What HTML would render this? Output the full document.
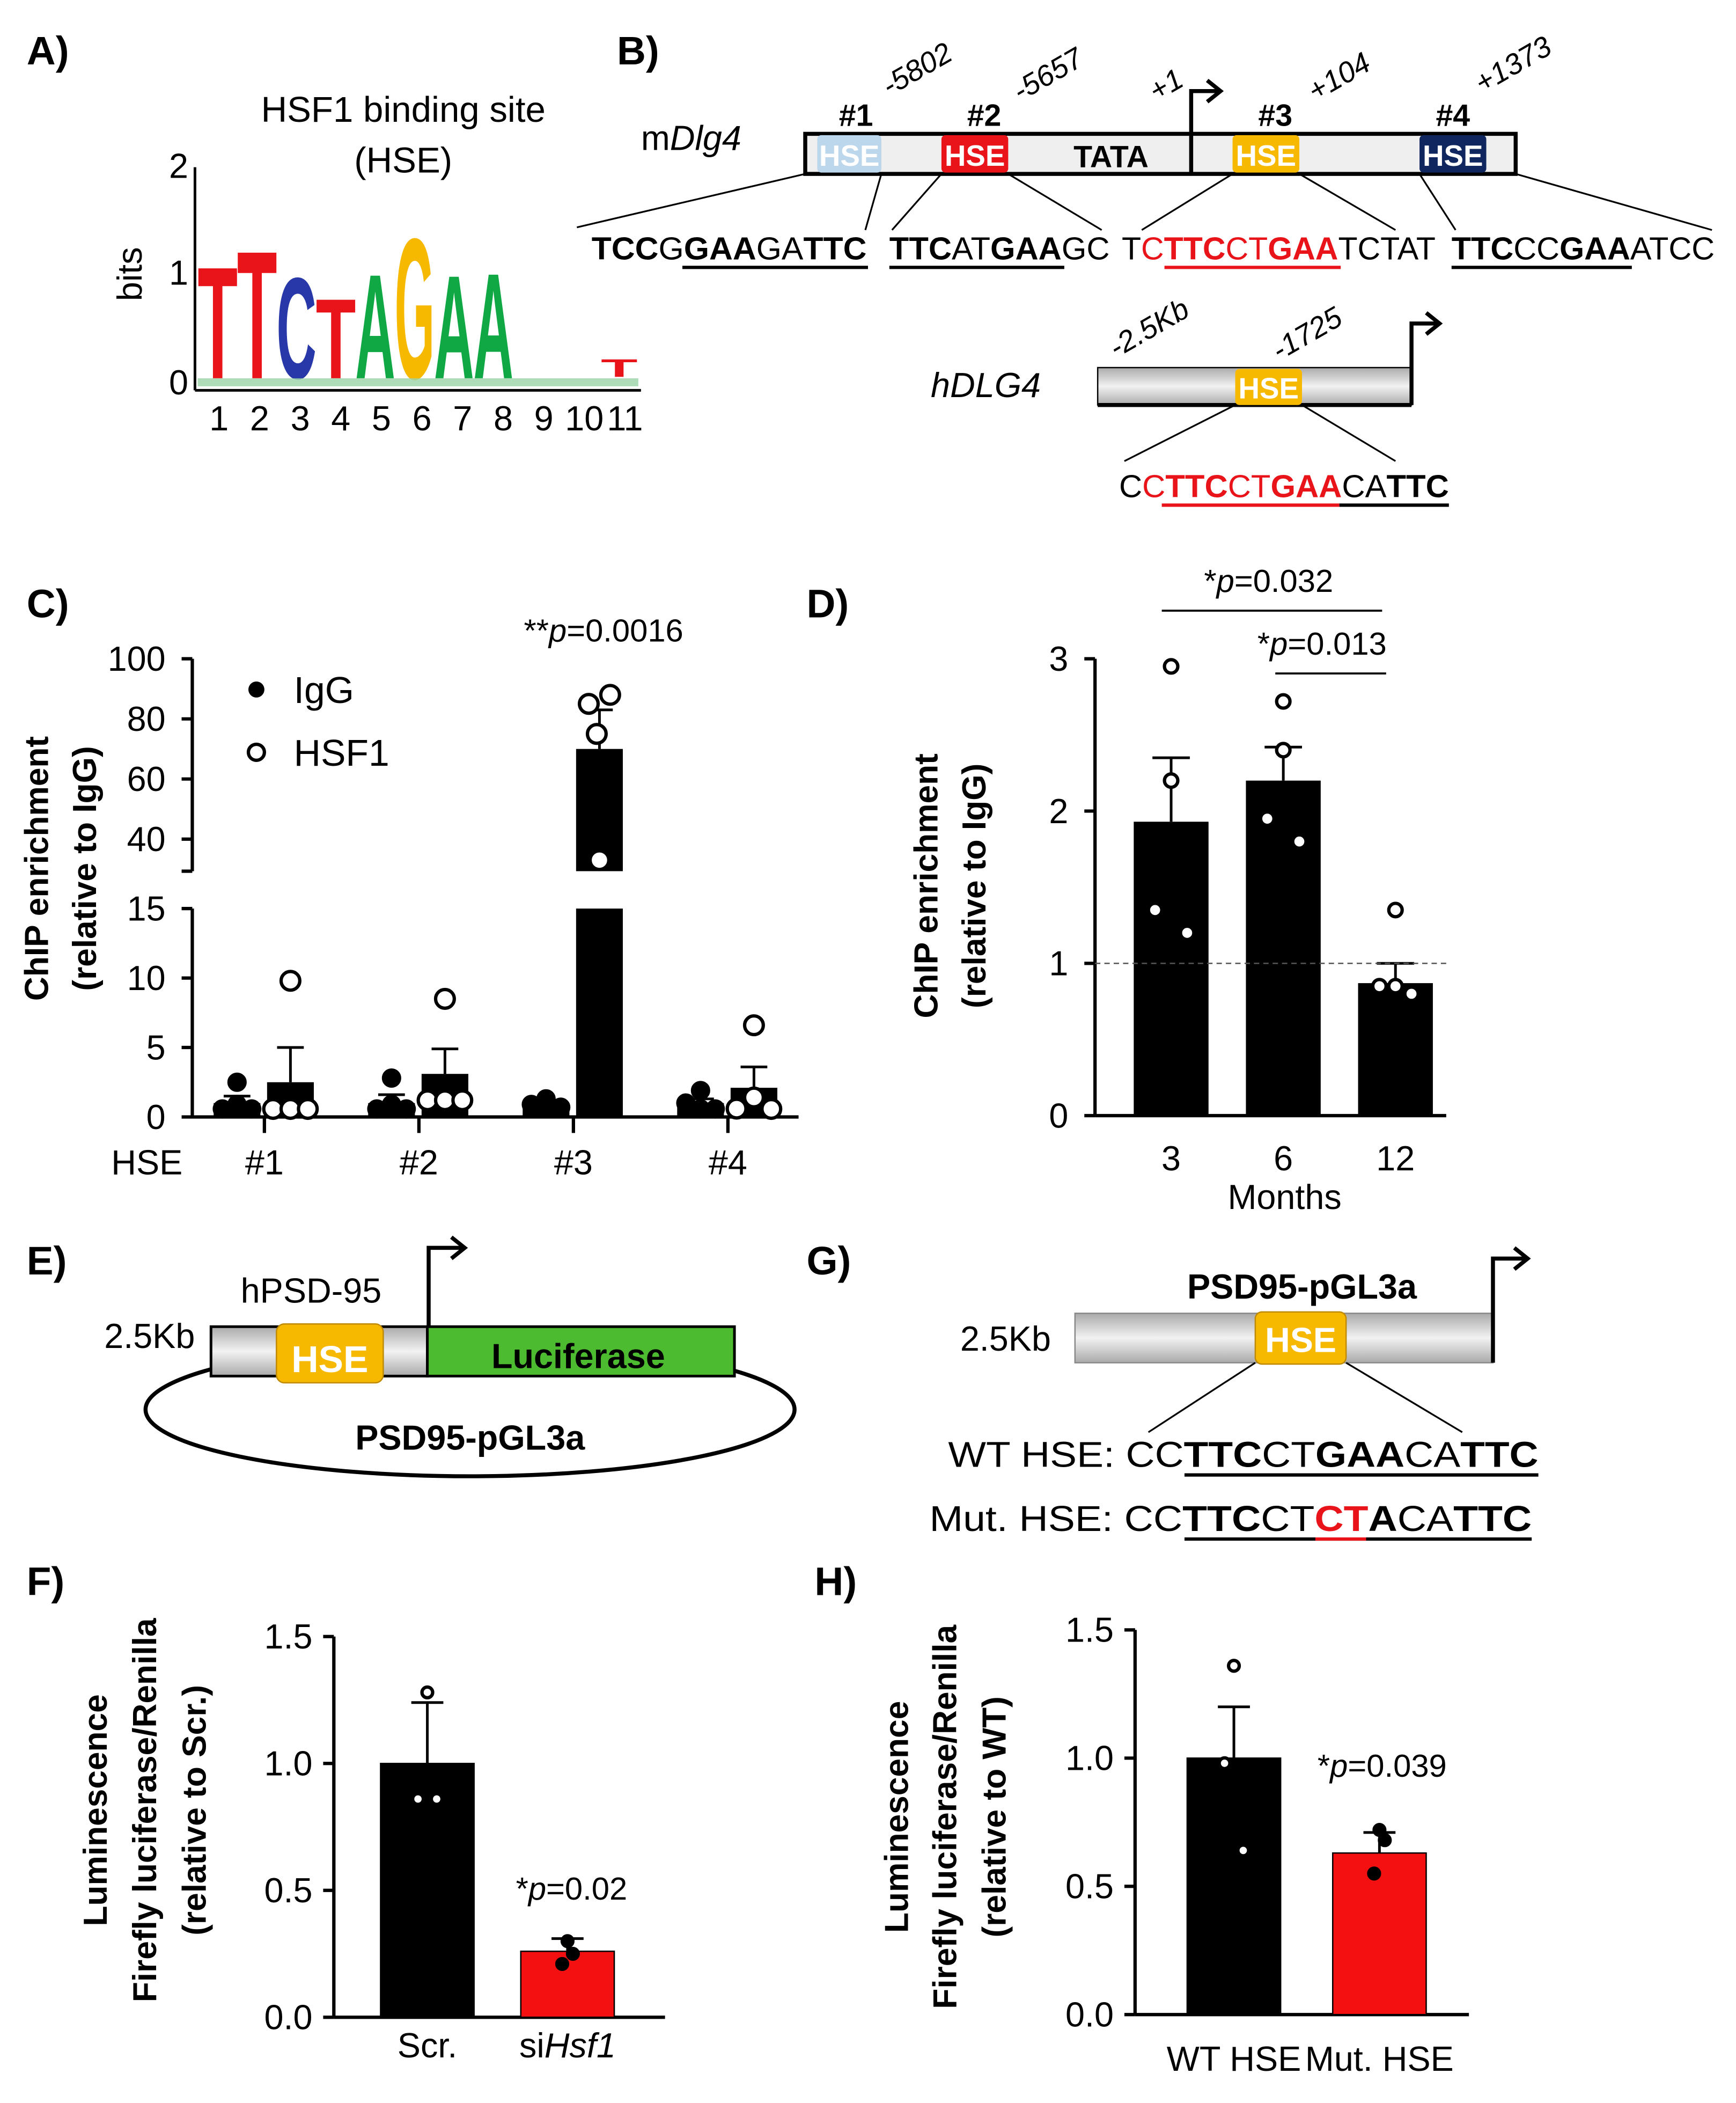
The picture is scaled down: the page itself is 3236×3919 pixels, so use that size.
<!DOCTYPE html>
<html><head><meta charset="utf-8">
<style>
html,body{margin:0;padding:0;background:#fff;}
svg{display:block;font-family:"Liberation Sans",sans-serif;}
</style></head>
<body>
<svg id="fig" width="3236" height="3919" viewBox="0 0 1300 1574" xmlns="http://www.w3.org/2000/svg">
<defs>
<linearGradient id="grayg" x1="0" y1="0" x2="0" y2="1">
<stop offset="0" stop-color="#aaa"/><stop offset="0.5" stop-color="#f2f2f2"/><stop offset="1" stop-color="#aaa"/>
</linearGradient>
</defs>

<!-- Panel A -->
<g>
<text x="20" y="48" font-size="30" font-weight="bold">A)</text>
<text x="302" y="91" font-size="27" text-anchor="middle">HSF1 binding site</text>
<text x="302" y="129" font-size="27" text-anchor="middle">(HSE)</text>
<line x1="146" y1="125" x2="146" y2="292" stroke="#000" stroke-width="2"/>
<line x1="146" y1="292" x2="480" y2="292" stroke="#000" stroke-width="2"/>
<text x="141" y="133" font-size="26" text-anchor="end">2</text>
<text x="141" y="213" font-size="26" text-anchor="end">1</text>
<text x="141" y="295" font-size="26" text-anchor="end">0</text>
<text transform="translate(106,205) rotate(-90)" font-size="26" text-anchor="middle">bits</text>
<g id="logo"></g>
<g id="logoX"></g>
</g>

<!-- Panel B -->
<g>
<text x="462" y="48" font-size="30" font-weight="bold">B)</text>
<text x="480" y="112" font-size="26">m<tspan font-style="italic">Dlg4</tspan></text>
<rect x="603" y="100" width="532" height="30" fill="#efefef" stroke="#000" stroke-width="3"/>
<rect x="612" y="101" width="48" height="28" rx="3" fill="#bcd6ec"/>
<text x="636" y="124" font-size="22" font-weight="bold" fill="#fff" text-anchor="middle">HSE</text>
<rect x="705" y="101" width="50" height="28" rx="3" fill="#e8141a"/>
<text x="730" y="124" font-size="22" font-weight="bold" fill="#fff" text-anchor="middle">HSE</text>
<text x="832" y="125" font-size="23" font-weight="bold" text-anchor="middle">TATA</text>
<rect x="923" y="101" width="50" height="28" rx="3" fill="#f7b900"/>
<text x="948" y="124" font-size="22" font-weight="bold" fill="#fff" text-anchor="middle">HSE</text>
<rect x="1063" y="101" width="50" height="28" rx="3" fill="#10265e"/>
<text x="1088" y="124" font-size="22" font-weight="bold" fill="#fff" text-anchor="middle">HSE</text>
<path d="M892,130 V68 H912 M904,60 L914,68 L904,76" fill="none" stroke="#000" stroke-width="3"/>
<g font-size="23" font-weight="bold" text-anchor="middle">
<text x="641" y="94">#1</text>
<text x="737" y="94">#2</text>
<text x="955" y="94">#3</text>
<text x="1088" y="94">#4</text>
</g>
<g font-size="22" font-style="italic">
<text transform="translate(666,72) rotate(-30)">-5802</text>
<text transform="translate(764,76) rotate(-30)">-5657</text>
<text transform="translate(866,76) rotate(-30)">+1</text>
<text transform="translate(985,76) rotate(-30)">+104</text>
<text transform="translate(1110,70) rotate(-30)">+1373</text>
</g>
<g stroke="#000" stroke-width="1.3">
<line x1="603" y1="130" x2="432" y2="170"/><line x1="660" y1="130" x2="648" y2="172"/>
<line x1="705" y1="130" x2="668" y2="172"/><line x1="755" y1="130" x2="825" y2="172"/>
<line x1="923" y1="130" x2="855" y2="172"/><line x1="973" y1="130" x2="1045" y2="172"/>
<line x1="1063" y1="130" x2="1090" y2="172"/><line x1="1135" y1="130" x2="1282" y2="172"/>
</g>
<g font-size="24">
<text x="443" y="194" textLength="206" lengthAdjust="spacingAndGlyphs"><tspan font-weight="bold">TCC</tspan>G<tspan font-weight="bold">GAA</tspan>GA<tspan font-weight="bold">TTC</tspan></text>
<line x1="511" y1="200" x2="650" y2="200" stroke="#000" stroke-width="2.5"/>
<text x="666" y="194" textLength="165" lengthAdjust="spacingAndGlyphs"><tspan font-weight="bold">TTC</tspan>AT<tspan font-weight="bold">GAA</tspan>GC</text>
<line x1="666" y1="200" x2="797" y2="200" stroke="#000" stroke-width="2.5"/>
<text x="840" y="194" textLength="235" lengthAdjust="spacingAndGlyphs">T<tspan fill="#e8141a">C</tspan><tspan font-weight="bold" fill="#e8141a">TTC</tspan><tspan fill="#e8141a">CT</tspan><tspan font-weight="bold" fill="#e8141a">GAA</tspan>TCTAT</text>
<line x1="872" y1="200" x2="1004" y2="200" stroke="#e8141a" stroke-width="2.5"/>
<text x="1087" y="194" textLength="197" lengthAdjust="spacingAndGlyphs"><tspan font-weight="bold">TTC</tspan>CC<tspan font-weight="bold">GAA</tspan>ATCC</text>
<line x1="1087" y1="200" x2="1222" y2="200" stroke="#000" stroke-width="2.5"/>
</g>
<text x="697" y="297" font-size="26" font-style="italic">hDLG4</text>
<rect x="822" y="275" width="235" height="28" fill="url(#grayg)" stroke="#000" stroke-width="1"/>
<line x1="822" y1="303" x2="1057" y2="303" stroke="#000" stroke-width="3"/>
<rect x="925" y="276" width="50" height="27" rx="3" fill="#f7b900"/>
<text x="950" y="298" font-size="22" font-weight="bold" fill="#fff" text-anchor="middle">HSE</text>
<path d="M1057,303 V242 H1076 M1068,234 L1078,242 L1068,250" fill="none" stroke="#000" stroke-width="3"/>
<text transform="translate(836,268) rotate(-30)" font-size="22" font-style="italic">-2.5Kb</text>
<text transform="translate(958,270) rotate(-30)" font-size="22" font-style="italic">-1725</text>
<g stroke="#000" stroke-width="1.3"><line x1="925" y1="303" x2="842" y2="345"/><line x1="975" y1="303" x2="1045" y2="345"/></g>
<text x="838" y="372" font-size="24" textLength="247" lengthAdjust="spacingAndGlyphs">C<tspan fill="#e8141a">C</tspan><tspan font-weight="bold" fill="#e8141a">TTC</tspan><tspan fill="#e8141a">CT</tspan><tspan font-weight="bold" fill="#e8141a">GAA</tspan>CA<tspan font-weight="bold">TTC</tspan></text>
<line x1="870" y1="378" x2="1003" y2="378" stroke="#e8141a" stroke-width="2.5"/>
<line x1="1003" y1="378" x2="1085" y2="378" stroke="#000" stroke-width="2.5"/>
</g>

<!-- Panel C -->
<g id="panelC">
<text x="20" y="462" font-size="30" font-weight="bold">C)</text>
<text transform="translate(36,650) rotate(-90)" font-size="25" font-weight="bold" text-anchor="middle">ChIP enrichment</text>
<text transform="translate(72,650) rotate(-90)" font-size="25" font-weight="bold" text-anchor="middle">(relative to IgG)</text>
<text x="452" y="480" font-size="24" text-anchor="middle">**<tspan font-style="italic">p</tspan>=0.0016</text>
<circle cx="192" cy="516" r="6" fill="#000"/>
<text x="220" y="526" font-size="28">IgG</text>
<circle cx="192" cy="563" r="6" fill="#fff" stroke="#000" stroke-width="2.5"/>
<text x="220" y="573" font-size="28">HSF1</text>
</g>

<!-- Panel D -->
<g id="panelD">
<text x="604" y="462" font-size="30" font-weight="bold">D)</text>
<text transform="translate(702,663) rotate(-90)" font-size="25" font-weight="bold" text-anchor="middle">ChIP enrichment</text>
<text transform="translate(738,663) rotate(-90)" font-size="25" font-weight="bold" text-anchor="middle">(relative to IgG)</text>
<text x="962" y="905" font-size="26" text-anchor="middle">Months</text>
<line x1="870" y1="457" x2="1035" y2="457" stroke="#000" stroke-width="1.5"/>
<text x="950" y="443" font-size="24" text-anchor="middle">*<tspan font-style="italic">p</tspan>=0.032</text>
<line x1="955" y1="504" x2="1038" y2="504" stroke="#000" stroke-width="1.5"/>
<text x="990" y="490" font-size="24" text-anchor="middle">*<tspan font-style="italic">p</tspan>=0.013</text>
</g>

<!-- Panel E -->
<g>
<text x="20" y="954" font-size="30" font-weight="bold">E)</text>
<ellipse cx="352" cy="1055" rx="243" ry="50" fill="none" stroke="#000" stroke-width="3"/>
<rect x="158" y="993" width="162" height="37" fill="url(#grayg)" stroke="#000" stroke-width="2"/>
<rect x="320" y="993" width="230" height="37" fill="#4cbb30" stroke="#000" stroke-width="2"/>
<text x="433" y="1024" font-size="26" font-weight="bold" text-anchor="middle">Luciferase</text>
<rect x="207" y="991" width="80" height="44" rx="6" fill="#f7b900" stroke="#c08a00"/>
<text x="247" y="1027" font-size="28" font-weight="bold" fill="#fff" text-anchor="middle">HSE</text>
<text x="233" y="975" font-size="26" text-anchor="middle">hPSD-95</text>
<text x="112" y="1009" font-size="26" text-anchor="middle">2.5Kb</text>
<path d="M321,993 V934 H346 M338,926 L348,934 L338,942" fill="none" stroke="#000" stroke-width="3"/>
<text x="352" y="1085" font-size="26" font-weight="bold" text-anchor="middle">PSD95-pGL3a</text>
</g>

<!-- Panel G -->
<g>
<text x="604" y="954" font-size="30" font-weight="bold">G)</text>
<text x="975" y="972" font-size="26" font-weight="bold" text-anchor="middle">PSD95-pGL3a</text>
<rect x="805" y="983" width="313" height="37" fill="url(#grayg)" stroke="#888" stroke-width="1"/>
<rect x="940" y="982" width="68" height="39" rx="5" fill="#f7b900" stroke="#c08a00"/>
<text x="974" y="1012" font-size="26" font-weight="bold" fill="#fff" text-anchor="middle">HSE</text>
<path d="M1118,1020 V942 H1142 M1134,934 L1144,942 L1134,950" fill="none" stroke="#000" stroke-width="3"/>
<text x="753" y="1011" font-size="26" text-anchor="middle">2.5Kb</text>
<g stroke="#000" stroke-width="1.3"><line x1="940" y1="1020" x2="860" y2="1072"/><line x1="1008" y1="1020" x2="1095" y2="1072"/></g>
<text x="710" y="1098" font-size="27" textLength="442" lengthAdjust="spacingAndGlyphs">WT HSE: CC<tspan font-weight="bold">TTC</tspan>CT<tspan font-weight="bold">GAA</tspan>CA<tspan font-weight="bold">TTC</tspan></text>
<line x1="887" y1="1104" x2="1152" y2="1104" stroke="#000" stroke-width="2.5"/>
<text x="696" y="1146" font-size="27" textLength="451" lengthAdjust="spacingAndGlyphs">Mut. HSE: CC<tspan font-weight="bold">TTC</tspan>CT<tspan font-weight="bold" fill="#e8141a">CT</tspan><tspan font-weight="bold">A</tspan>CA<tspan font-weight="bold">TTC</tspan></text>
<line x1="887" y1="1152" x2="1147" y2="1152" stroke="#000" stroke-width="2.5"/>
<line x1="985" y1="1152" x2="1023" y2="1152" stroke="#e8141a" stroke-width="2.5"/>
</g>

<!-- Panel F -->
<g id="panelF">
<text x="20" y="1194" font-size="30" font-weight="bold">F)</text>
<text transform="translate(80,1355) rotate(-90)" font-size="25" font-weight="bold" text-anchor="middle">Luminescence</text>
<text transform="translate(117,1355) rotate(-90)" font-size="25" font-weight="bold" text-anchor="middle">Firefly luciferase/Renilla</text>
<text transform="translate(154,1355) rotate(-90)" font-size="25" font-weight="bold" text-anchor="middle">(relative to Scr.)</text>
<text x="428" y="1422" font-size="24" text-anchor="middle">*<tspan font-style="italic">p</tspan>=0.02</text>
</g>

<!-- Panel H -->
<g id="panelH">
<text x="610" y="1194" font-size="30" font-weight="bold">H)</text>
<text transform="translate(680,1360) rotate(-90)" font-size="25" font-weight="bold" text-anchor="middle">Luminescence</text>
<text transform="translate(716,1360) rotate(-90)" font-size="25" font-weight="bold" text-anchor="middle">Firefly luciferase/Renilla</text>
<text transform="translate(753,1360) rotate(-90)" font-size="25" font-weight="bold" text-anchor="middle">(relative to WT)</text>
<text x="1035" y="1330" font-size="24" text-anchor="middle">*<tspan font-style="italic">p</tspan>=0.039</text>
</g>
</svg>

<script>
const NS = "http://www.w3.org/2000/svg";
// ---------- data ----------
const logoLetters = ["T","T","C","T","A","G","A","A"];
const logoHeights = [1.05, 1.2, 0.95, 0.75, 0.98, 1.32, 0.97, 0.99];
const logoColors = ["#e8141a","#e8141a","#2838a8","#e8141a","#10a845","#f7b900","#10a845","#10a845"];
const logoPositions = ["1","2","3","4","5","6","7","8","9","10","11"];

const cGroups = ["#1","#2","#3","#4"];
const cIgGMean = [1.0, 1.0, 1.0, 1.0];
const cIgGErr = [1.5, 1.6, 1.2, 1.3];
const cHsfMean = [2.5, 3.1, 70, 2.1];
const cHsfErr = [5.0, 4.9, 83, 3.6];
const cIgGPts = [[2.5,0.3,0.9,0],[2.8,0.2,0.9,0.2],[1.3,0.9,0.8,0.7],[0.3,1.0,1.9,0.5]];
const cHsfPts = [[9.8,0.2,0.2,0.2],[8.5,1.2,1.2,1.2],[88,85,75,33],[6.6,0.6,1.4,0.4]];
const cLowTicks = [0,5,10,15];
const cHighTicks = [40,60,80,100];

const dCats = ["3","6","12"];
const dMean = [1.93, 2.2, 0.87];
const dErr = [2.35, 2.42, 1.0];
const dPts = [[2.95,2.2,1.35,1.2],[2.72,2.4,1.95,1.8],[1.35,0.85,0.85,0.8]];
const dTicks = [0,1,2,3];

const fCats = ["Scr.","siHsf1"];
const fMean = [1.0, 0.26];
const fErr = [1.24, 0.31];
const fPts = [[1.28,0.86,0.86],[0.3,0.25,0.21]];
const hCats = ["WT HSE","Mut. HSE"];
const hMean = [1.0, 0.63];
const hErr = [1.2, 0.71];
const hPts = [[1.36,0.98,0.64],[0.72,0.68,0.55]];
const lumTicks = [0.0, 0.5, 1.0, 1.5];

function mk(tag, attrs, parent){
  const e = document.createElementNS(NS, tag);
  for (const k in attrs) e.setAttribute(k, attrs[k]);
  parent.appendChild(e); return e;
}

// ---------- Logo ----------
(function(){
  const g = document.getElementById("logo");
  const yb = v => 287 - v*82;
  logoLetters.forEach((ch,i)=>{
    const x = 148 + i*29.5, w = 30;
    const h = logoHeights[i]*82;
    const t = mk("text", {x:0, y:0, "font-size":100, "font-weight":"bold", fill:logoColors[i],
      textLength:61, lengthAdjust:"spacingAndGlyphs",
      transform:`translate(${x},${yb(0)-4}) scale(${w/61},${h/72})`}, g);
    t.textContent = ch;
    
    
  });
  const t11 = mk("text",{x:0,y:0,"font-size":100,"font-weight":"bold",fill:"#e8141a",textLength:61,lengthAdjust:"spacingAndGlyphs",transform:`translate(450,282) scale(0.45,0.19)`},g);
  t11.textContent="T";
  
  
  const base = mk("rect",{x:148,y:283,width:330,height:6,fill:"#9ad3a8",opacity:0.8},g);
  
  
  const gx = document.getElementById("logoX");
  logoPositions.forEach((p,i)=>{
    const t = mk("text",{x:164+i*30.4,y:322,"font-size":26,"text-anchor":"middle"},gx);
    t.textContent = p;
    
    
  });
})();

function errBar(g, cx, yTop, yBase, hw){
  mk("line",{x1:cx,y1:yBase,x2:cx,y2:yTop,stroke:"#000","stroke-width":2},g);
  mk("line",{x1:cx-hw,y1:yTop,x2:cx+hw,y2:yTop,stroke:"#000","stroke-width":2},g);
}
function dot(g, cx, cy, r, filled, name){
  const c = mk("circle",{cx:cx,cy:cy,r:r,fill:filled?"#000":"#fff",stroke:"#000","stroke-width":2.5},g);
  
  
}

// ---------- Panel C ----------
(function(){
  const g = document.getElementById("panelC");
  const yLow = v => 836 - v*(156/15);
  const yHigh = v => 650.5 - (v-30)*(157.5/70);
  const y = v => v<=15 ? yLow(v) : (v>=30 ? yHigh(v) : yLow(15));
  mk("line",{x1:144,y1:493,x2:144,y2:652,stroke:"#000","stroke-width":2.5},g);
  mk("line",{x1:136,y1:652,x2:144,y2:652,stroke:"#000","stroke-width":2.5},g);
  mk("line",{x1:144,y1:680,x2:144,y2:836,stroke:"#000","stroke-width":2.5},g);
  mk("line",{x1:144,y1:836,x2:598,y2:836,stroke:"#000","stroke-width":2.5},g);
  cLowTicks.forEach(v=>{
    mk("line",{x1:136,y1:yLow(v),x2:144,y2:yLow(v),stroke:"#000","stroke-width":2.5},g);
    const t = mk("text",{x:124,y:yLow(v)+9,"font-size":26,"text-anchor":"end"},g); t.textContent=v;
    
    
  });
  cHighTicks.forEach(v=>{
    mk("line",{x1:136,y1:yHigh(v),x2:144,y2:yHigh(v),stroke:"#000","stroke-width":2.5},g);
    const t = mk("text",{x:124,y:yHigh(v)+9,"font-size":26,"text-anchor":"end"},g); t.textContent=v;
    
    
  });
  const hse = mk("text",{x:110,y:879,"font-size":26,"text-anchor":"middle"},g); hse.textContent="HSE";
  
  
  cGroups.forEach((lab,i)=>{
    const gc = 198 + i*115.7;
    mk("line",{x1:gc,y1:836,x2:gc,y2:848,stroke:"#000","stroke-width":2.5},g);
    const t = mk("text",{x:gc,y:879,"font-size":26,"text-anchor":"middle"},g); t.textContent=lab;
    
    
    const xi = gc-38, xh = gc+2, bw = 35;
    errBar(g, xi+bw/2, y(cIgGErr[i]), y(cIgGMean[i]), 10);
    const b1 = mk("rect",{x:xi,y:y(cIgGMean[i]),width:bw,height:836-y(cIgGMean[i]),fill:"#000"},g);
    
    
    errBar(g, xh+bw/2, y(cHsfErr[i]), y(cHsfMean[i]), 10);
    if (cHsfMean[i] > 15){
      const b2 = mk("rect",{x:xh,y:yLow(15),width:bw,height:836-yLow(15),fill:"#000"},g);
      
      
      const b3 = mk("rect",{x:xh,y:yHigh(cHsfMean[i]),width:bw,height:652-yHigh(cHsfMean[i]),fill:"#000"},g);
      
      
    } else {
      const b2 = mk("rect",{x:xh,y:y(cHsfMean[i]),width:bw,height:836-y(cHsfMean[i]),fill:"#000"},g);
      
      
    }
    const off = [0,-11,0,11];
    cIgGPts[i].forEach((v,k)=> dot(g, xi+bw/2+off[k], Math.min(y(v),830), 6, true, 'point-igg'));
    const offh = [0,-13,0,13];
    cHsfPts[i].forEach((v,k)=>{
      let px = xh+bw/2+offh[k];
      if (i===2){ px = xh+bw/2 + [8,-8,-2,0][k]; }
      dot(g, px, Math.min(y(v),830), 7, false, 'point-hsf1');
    });
  });
})();

// ---------- Panel D ----------
(function(){
  const g = document.getElementById("panelD");
  const y = v => 835 - v*114;
  mk("line",{x1:820,y1:493,x2:820,y2:835,stroke:"#000","stroke-width":2.5},g);
  mk("line",{x1:820,y1:835,x2:1083,y2:835,stroke:"#000","stroke-width":2.5},g);
  dTicks.forEach(v=>{
    mk("line",{x1:812,y1:y(v),x2:820,y2:y(v),stroke:"#000","stroke-width":2.5},g);
    const t = mk("text",{x:800,y:y(v)+9,"font-size":26,"text-anchor":"end"},g); t.textContent=v;
    
    
  });
  dCats.forEach((lab,i)=>{
    const cx = 877 + i*84, bw = 56;
    errBar(g, cx, y(dErr[i]), y(dMean[i]), 14);
    const b = mk("rect",{x:cx-bw/2,y:y(dMean[i]),width:bw,height:835-y(dMean[i]),fill:"#000"},g);
    
    
    const t = mk("text",{x:cx,y:876,"font-size":26,"text-anchor":"middle"},g); t.textContent=lab;
    
    
    const off=[0,0,-12,12];
    dPts[i].forEach((v,k)=> dot(g, cx+off[k], y(v), 5, false, 'point-month'));
  });
  const dl = mk("line",{x1:820,y1:y(1),x2:1083,y2:y(1),stroke:"#555","stroke-width":1,"stroke-dasharray":"4,3"},g);
  
  
})();

// ---------- Panels F & H ----------
function lumChart(id, ax, yTop, yBot, xEnd, cats, mean, err, pts, centers, colors, labelY){
  const g = document.getElementById(id);
  const y = v => yBot - v*(yBot-yTop)/1.5;
  mk("line",{x1:ax,y1:yTop,x2:ax,y2:yBot,stroke:"#000","stroke-width":2.5},g);
  mk("line",{x1:ax,y1:yBot,x2:xEnd,y2:yBot,stroke:"#000","stroke-width":2.5},g);
  lumTicks.forEach(v=>{
    mk("line",{x1:ax-8,y1:y(v),x2:ax,y2:y(v),stroke:"#000","stroke-width":2.5},g);
    const t = mk("text",{x:ax-16,y:y(v)+9,"font-size":26,"text-anchor":"end"},g); t.textContent=v.toFixed(1);
    
    
  });
  cats.forEach((lab,i)=>{
    const cx = centers[i], bw = 70;
    errBar(g, cx, y(err[i]), y(mean[i]), 12);
    const b = mk("rect",{x:cx-bw/2,y:y(mean[i]),width:bw,height:yBot-y(mean[i]),fill:colors[i],stroke:"#000","stroke-width":1},g);
    
    
    const t = mk("text",{x:cx,y:labelY,"font-size":26,"text-anchor":"middle"},g);
    if (lab==="siHsf1"){ t.innerHTML = 'si<tspan font-style="italic">Hsf1</tspan>'; } else t.textContent=lab;
    
    
    pts[i].forEach((v,k)=> dot(g, cx+(i===0?[0,-7,7][k]:[0,4,-4][k]), y(v), 4, i===1, 'point-luminescence'));
  });
}
lumChart("panelF", 250, 1225, 1510, 498, fCats, fMean, fErr, fPts, [320,425], ["#000","#f41010"], 1540);
lumChart("panelH", 850, 1220, 1508, 1100, hCats, hMean, hErr, hPts, [924,1033], ["#000","#f41010"], 1550);
</script>
</body></html>
